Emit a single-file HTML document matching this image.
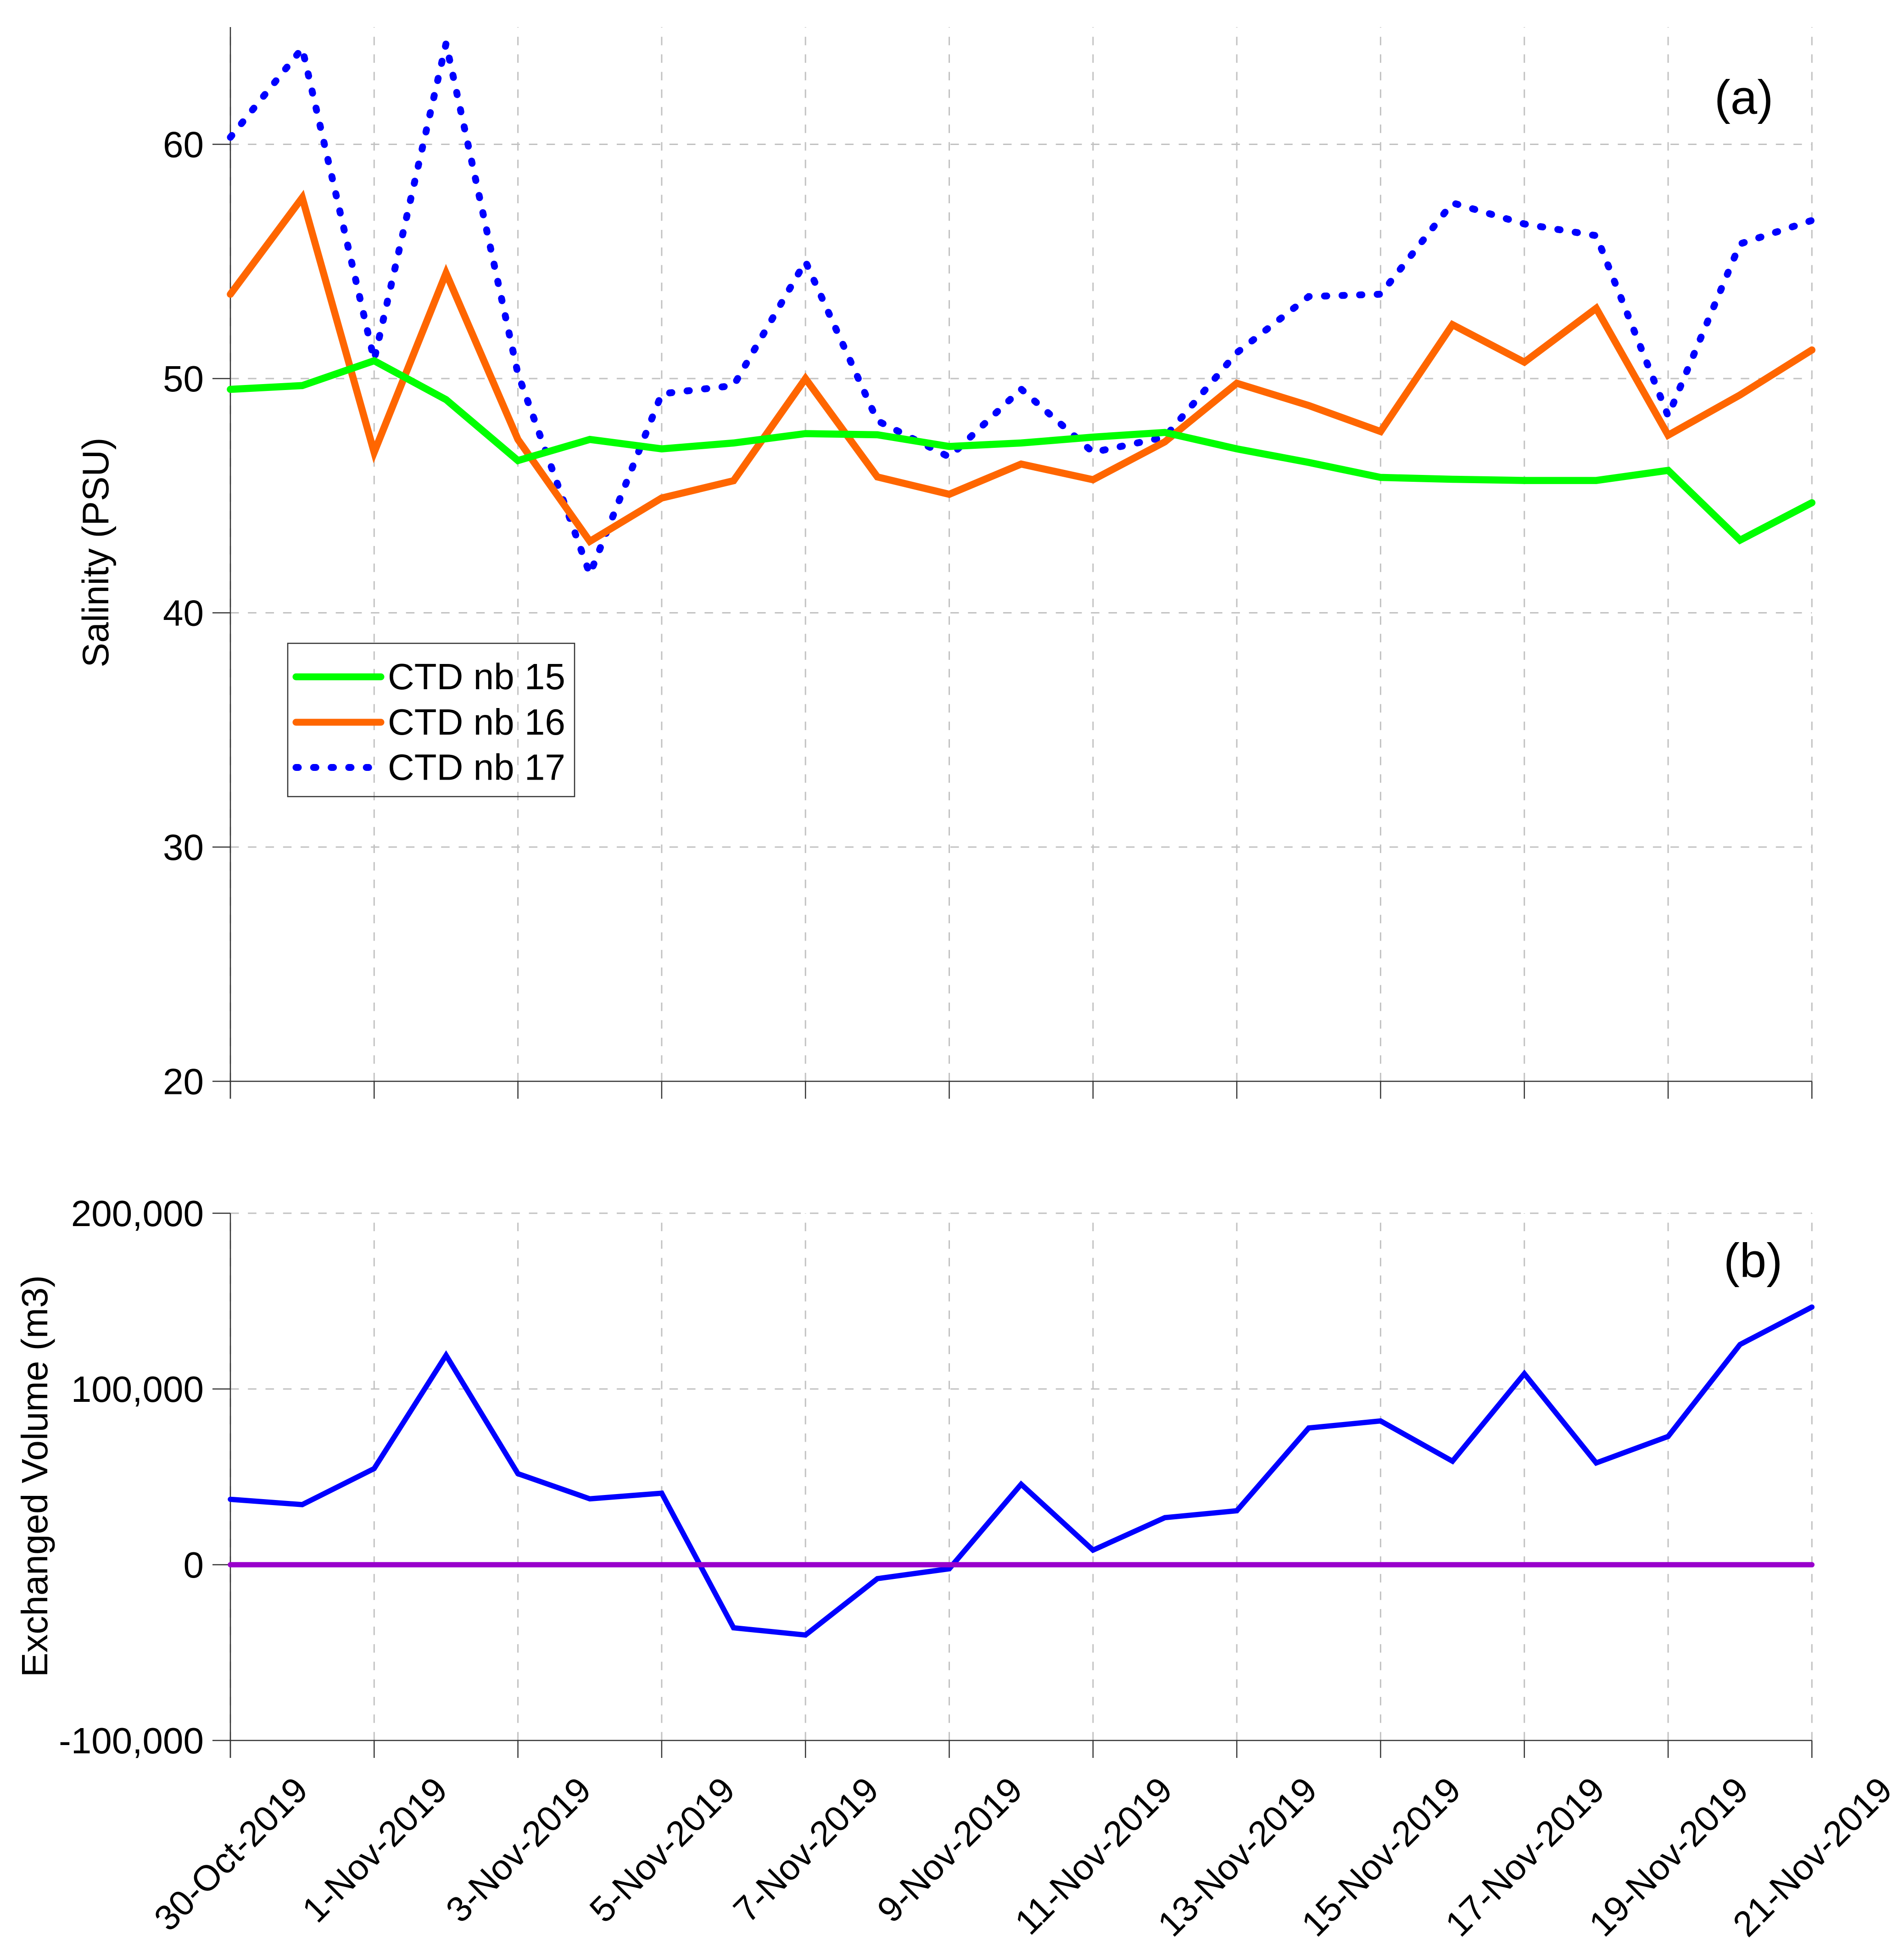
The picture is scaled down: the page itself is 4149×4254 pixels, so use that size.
<!DOCTYPE html>
<html lang="en">
<head>
<meta charset="utf-8">
<title>Salinity and exchanged volume</title>
<style>
html,body{margin:0;padding:0;background:#fff;width:4149px;height:4254px;overflow:hidden}
svg{display:block}
text{font-family:"Liberation Sans",Arial,sans-serif;fill:#000}
</style>
</head>
<body>
<svg id="chart" xmlns="http://www.w3.org/2000/svg" width="4149" height="4254" viewBox="0 0 4149 4254">
  <rect x="0" y="0" width="4149" height="4254" fill="#fff"/>
  <g id="panelA"></g>
  <g id="panelB"></g>
  <text transform="translate(236,1204) rotate(-90)" text-anchor="middle" font-size="80.5">Salinity (PSU)</text>
  <text transform="translate(103,3217) rotate(-90)" text-anchor="middle" font-size="80">Exchanged Volume (m3)</text>
  <text x="3800" y="248" text-anchor="middle" font-size="105">(a)</text>
  <text x="3820" y="2783" text-anchor="middle" font-size="105">(b)</text>
  <g>
    <rect x="627" y="1402" width="625" height="334" fill="none" stroke="#333" stroke-width="2.5"/>
    <line x1="645" y1="1475" x2="830" y2="1475" stroke="#00ff00" stroke-width="15" stroke-linecap="round"/>
    <text x="845" y="1502" font-size="80">CTD nb 15</text>
    <line x1="645" y1="1574" x2="830" y2="1574" stroke="#ff6600" stroke-width="15" stroke-linecap="round"/>
    <text x="845" y="1601" font-size="80">CTD nb 16</text>
    <line x1="645" y1="1672.5" x2="830" y2="1672.5" stroke="#0000ff" stroke-width="15" stroke-linecap="round" stroke-dasharray="5 33.3"/>
    <text x="845" y="1699.5" font-size="80">CTD nb 17</text>
  </g>
</svg>
<script>
const categories = ['30-Oct-2019','31-Oct-2019','1-Nov-2019','2-Nov-2019','3-Nov-2019','4-Nov-2019','5-Nov-2019','6-Nov-2019','7-Nov-2019','8-Nov-2019','9-Nov-2019','10-Nov-2019','11-Nov-2019','12-Nov-2019','13-Nov-2019','14-Nov-2019','15-Nov-2019','16-Nov-2019','17-Nov-2019','18-Nov-2019','19-Nov-2019','20-Nov-2019','21-Nov-2019'];
const ctd15 = [49.54,49.7,50.76,49.1,46.5,47.4,47.0,47.25,47.65,47.6,47.1,47.25,47.5,47.7,47.0,46.42,45.78,45.7,45.65,45.65,46.08,43.1,44.7];
const ctd16 = [53.6,57.72,46.85,54.5,47.4,43.05,44.9,45.64,50.0,45.8,45.06,46.35,45.68,47.3,49.8,48.85,47.74,52.3,50.7,53.0,47.58,49.3,51.22];
const ctd17 = [60.3,64.1,50.8,64.3,50.2,41.65,49.35,49.7,55.0,48.2,46.65,49.55,46.85,47.5,51.1,53.5,53.6,57.5,56.6,56.1,48.4,55.75,56.75];
const exchangedVolume = [37200,34200,54700,119200,51800,37500,40700,-35900,-40000,-7900,-2300,45800,8300,26800,30700,77800,81800,58900,108700,57900,73000,125300,146600];
const zeroLine = [0,0,0,0,0,0,0,0,0,0,0,0,0,0,0,0,0,0,0,0,0,0,0];
const salinityTicks = [20,30,40,50,60];
const volumeTicks = [-100000,0,100000,200000];
const volumeTickLabels = ['-100,000','0','100,000','200,000'];

const NS = 'http://www.w3.org/2000/svg';
const X0 = 502, DAY = 156.65;
const xScale = function (i) { return X0 + i * DAY; };
const xEnd = xScale(categories.length - 1);
const ySal = function (v) { return 2356.5 - (v - 20) * 51.05; };
const yVol = function (v) { return 3410 - v * 0.00383; };

function mk(parent, tag, attrs) {
  const el = document.createElementNS(NS, tag);
  for (const k in attrs) el.setAttribute(k, attrs[k]);
  parent.appendChild(el);
  return el;
}

function drawAxes(parent, prefix, ticks, labels, yFn, yTop, yBottom) {
  categories.forEach(function (c, i) {
    if (i % 2) return;
    const x = xScale(i);
    const g = mk(parent, 'path', {d: 'M' + x + ' ' + yBottom + 'L' + x + ' ' + yTop, fill: 'none', stroke: '#c2c2c2', 'stroke-width': 3, 'stroke-dasharray': '18.5 19.77'});
    
    
  });
  ticks.forEach(function (t, i) {
    const y = yFn(t);
    if (y < yBottom - 1) {
      const g = mk(parent, 'path', {d: 'M' + X0 + ' ' + y + 'L' + xEnd + ' ' + y, fill: 'none', stroke: '#c2c2c2', 'stroke-width': 3, 'stroke-dasharray': '18.5 19.77'});
      
      
    }
    const tk = mk(parent, 'line', {x1: X0 - 39, y1: y, x2: X0, y2: y, stroke: '#333', 'stroke-width': 2.5});
    
    
    const lb = mk(parent, 'text', {x: 444, y: y + 28, 'text-anchor': 'end', 'font-size': 80});
    
    
    lb.textContent = labels[i];
  });
  const ya = mk(parent, 'line', {x1: X0, y1: yTop, x2: X0, y2: yBottom + 38, stroke: '#333', 'stroke-width': 2.5});
  
  
  const xa = mk(parent, 'line', {x1: X0, y1: yBottom, x2: xEnd, y2: yBottom, stroke: '#333', 'stroke-width': 2.5});
  
  
  categories.forEach(function (c, i) {
    if (i % 2) return;
    const x = xScale(i);
    const tk = mk(parent, 'line', {x1: x, y1: yBottom, x2: x, y2: yBottom + 38, stroke: '#333', 'stroke-width': 2.5});
    
    
  });
}

function drawSeries(parent, name, values, yFn, color, width, dash) {
  const d = values.map(function (v, i) { return (i ? 'L' : 'M') + xScale(i).toFixed(1) + ' ' + yFn(v).toFixed(1); }).join('');
  const p = mk(parent, 'path', {d: d, fill: 'none', stroke: color, 'stroke-width': width, 'stroke-linecap': 'round', 'stroke-linejoin': 'miter'});
  if (dash) p.setAttribute('stroke-dasharray', dash);
  
  
}

const panelA = document.getElementById('panelA');
const panelB = document.getElementById('panelB');

drawAxes(panelA, 'salinity', salinityTicks, salinityTicks.map(String), ySal, 59, ySal(20));
drawSeries(panelA, 'series-ctd-17', ctd17, ySal, '#0000ff', 15, '5 33.3');
drawSeries(panelA, 'series-ctd-16', ctd16, ySal, '#ff6600', 15.5);
drawSeries(panelA, 'series-ctd-15', ctd15, ySal, '#00ff00', 15.5);

drawAxes(panelB, 'volume', volumeTicks, volumeTickLabels, yVol, yVol(200000), yVol(-100000));
drawSeries(panelB, 'series-exchanged-volume', exchangedVolume, yVol, '#0000ff', 11.5);
drawSeries(panelB, 'series-zero-line', zeroLine, yVol, '#9900cc', 11.5);

categories.forEach(function (c, i) {
  if (i % 2) return;
  const t = mk(panelB, 'text', {'text-anchor': 'end', 'font-size': 78});
  
  
  t.textContent = c;
  const len = t.getComputedTextLength();
  const xe = xScale(i) + 20 + len * 0.3536;
  t.setAttribute('transform', 'translate(' + xe.toFixed(1) + ',3906) rotate(-45)');
});
</script>
</body>
</html>
